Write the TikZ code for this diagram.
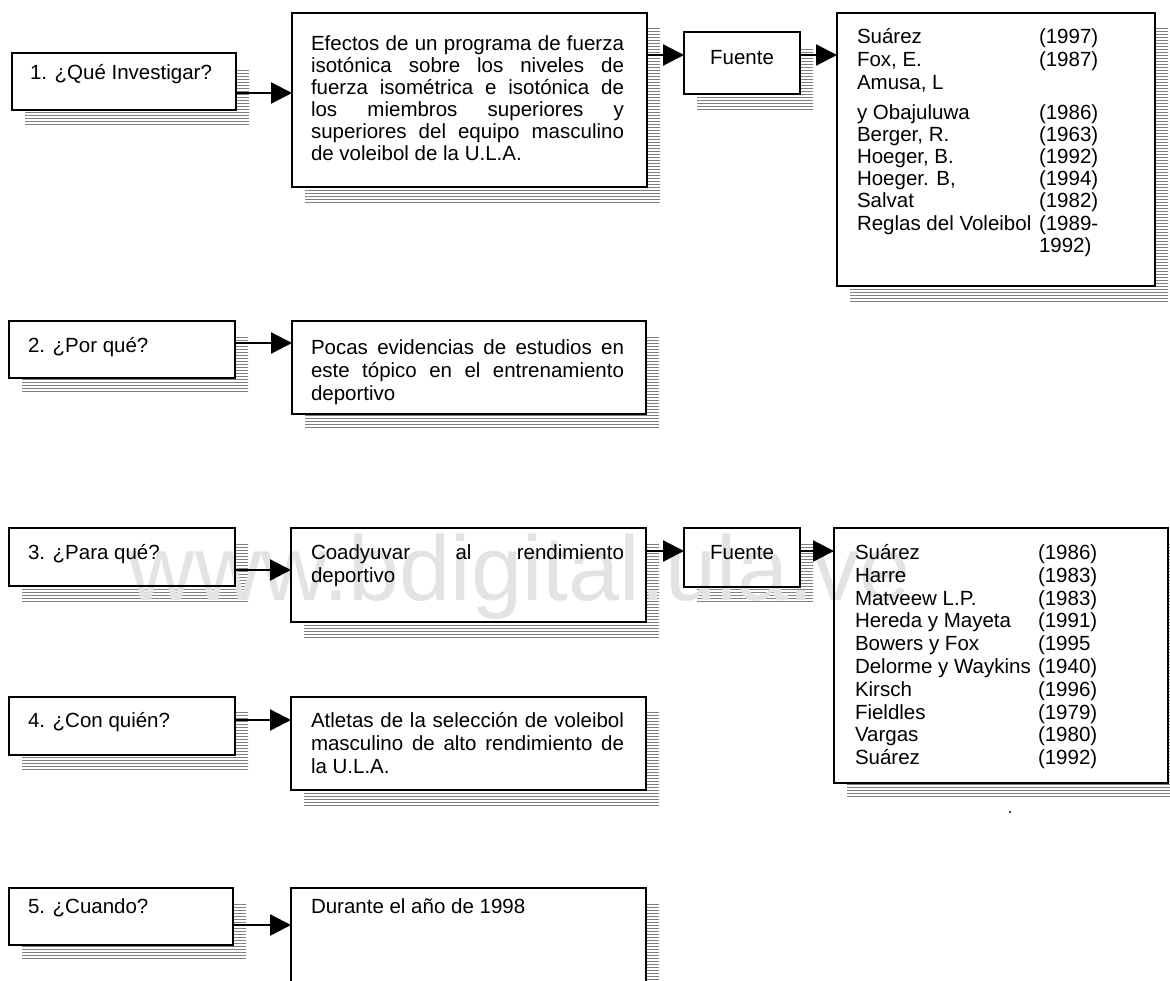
\documentclass[tikz,border=0pt]{standalone}
\usepackage{fontspec}
\usepackage{graphicx}
\setmainfont{Liberation Sans}
\usetikzlibrary{patterns,arrows.meta}
\newsavebox\jbox
\newcommand\jl[1]{\sbox\jbox{#1}\ifdim\wd\jbox>313pt\resizebox{313pt}{\height}{#1}\else\makebox[313pt][s]{#1}\fi}
\newcommand\tline[4]{\node[txt] (#1) at (#2,#3) {#4};}
\newcommand\shadowbox[4]{\fill[shade] (#1+13,#2+15) rectangle (#3+13,#4+15);}
\newcommand\whitebox[4]{\fill[white] (#1,#2) rectangle (#3,#4);}
\begin{document}
\begin{tikzpicture}[x=1pt,y=-1pt,
  every node/.style={inner sep=0pt, outer sep=0pt},
  txt/.style={font=\fontsize{20.5}{22.5}\selectfont, anchor=base west},
  boxframe/.style={draw=black, line width=1.6pt},
  shade/.style={pattern=horizontal lines, pattern color=black!50},
  conn/.style={line width=2.4pt, -{Triangle[length=21pt,width=21pt]}},
  wm/.style={font=\fontsize{92}{92}\selectfont, text=black!11, anchor=base}
]
\useasboundingbox (0,0) rectangle (1170,980);

% ---------- shadows ----------
\shadowbox{12}{53}{236}{110}
\shadowbox{292}{13}{647}{187}
\shadowbox{684}{32}{800}{94}
\shadowbox{837}{13}{1155}{286}
\shadowbox{9}{321}{235}{378}
\shadowbox{292}{321}{646}{414}
\shadowbox{9}{528}{235}{586}
\shadowbox{291}{528}{646}{622}
\shadowbox{684}{528}{800}{587}
\shadowbox{834}{528}{1168}{783}
\shadowbox{9}{697}{235}{755}
\shadowbox{291}{697}{646}{790}
\shadowbox{9}{888}{233}{945}
\shadowbox{291}{888}{646}{1000}

% ---------- box fills ----------
\whitebox{12}{53}{236}{110}
\whitebox{292}{13}{647}{187}
\whitebox{684}{32}{800}{94}
\whitebox{837}{13}{1155}{286}
\whitebox{9}{321}{235}{378}
\whitebox{292}{321}{646}{414}
\whitebox{9}{528}{235}{586}
\whitebox{291}{528}{646}{622}
\whitebox{684}{528}{800}{587}
\whitebox{834}{528}{1168}{783}
\whitebox{9}{697}{235}{755}
\whitebox{291}{697}{646}{790}
\whitebox{9}{888}{233}{945}
\whitebox{291}{888}{646}{1000}

% watermark
\node[wm] (wmark) at (520,600) {www.bdigital.ula.ve};

% ---------- row 1 ----------
\draw[boxframe] (12,53) rectangle (236,110);
\tline{t1}{30}{79}{1. ¿Qué Investigar?}
\coordinate (q1) at (236,93);

\draw[boxframe] (292,13) rectangle (647,187);
\coordinate (r1) at (292,93);
\coordinate (r1o) at (647,55);
\tline{e1}{311}{50}{\jl{Efectos de un programa de fuerza}}
\tline{e2}{311}{72}{\jl{isotónica sobre los niveles de}}
\tline{e3}{311}{94}{\jl{fuerza isométrica e isotónica de}}
\tline{e4}{311}{116}{\jl{los miembros superiores y}}
\tline{e5}{311}{138}{\jl{superiores del equipo masculino}}
\tline{e6}{311}{160}{de voleibol de la U.L.A.}

\draw[boxframe] (684,32) rectangle (800,94);
\coordinate (f1i) at (684,55);
\coordinate (f1o) at (800,55);
\node[txt, anchor=base] (tf1) at (742,64) {Fuente};

\draw[boxframe] (837,13) rectangle (1155,286);
\coordinate (s1i) at (837,55);
\tline{a1}{857}{43}{Suárez}            \tline{y1}{1039}{43}{(1997)}
\tline{a2}{857}{66}{Fox, E.}           \tline{y2}{1039}{66}{(1987)}
\tline{a3}{857}{89}{Amusa, L}
\tline{a4}{857}{119}{y Obajuluwa}      \tline{y4}{1039}{119}{(1986)}
\tline{a5}{857}{141}{Berger, R.}       \tline{y5}{1039}{141}{(1963)}
\tline{a6}{857}{163}{Hoeger, B.}       \tline{y6}{1039}{163}{(1992)}
\tline{a7}{857}{185}{Hoeger. B,}       \tline{y7}{1039}{185}{(1994)}
\tline{a8}{857}{207}{Salvat}           \tline{y8}{1039}{207}{(1982)}
\tline{a9}{857}{230}{Reglas del Voleibol} \tline{y9}{1039}{230}{(1989-}
\tline{y10}{1039}{252}{1992)}

% ---------- row 2 ----------
\draw[boxframe] (9,321) rectangle (235,378);
\coordinate (q2) at (235,343);
\tline{t3}{28}{352}{2. ¿Por qué?}
\draw[boxframe] (292,321) rectangle (646,414);
\coordinate (r2) at (292,343);
\tline{p1}{311}{354}{\jl{Pocas evidencias de estudios en}}
\tline{p2}{311}{377}{\jl{este tópico en el entrenamiento}}
\tline{p3}{311}{400}{deportivo}

% ---------- row 3 ----------
\draw[boxframe] (9,528) rectangle (235,586);
\coordinate (q3) at (235,570);
\tline{t5}{28}{559}{3. ¿Para qué?}
\draw[boxframe] (291,528) rectangle (646,622);
\coordinate (r3) at (291,570);
\coordinate (r3o) at (646,551);
\tline{c1}{311}{559}{\jl{Coadyuvar al rendimiento}}
\tline{c2}{311}{582}{deportivo}
\draw[boxframe] (684,528) rectangle (800,587);
\coordinate (f2i) at (684,551);
\coordinate (f2o) at (800,551);
\node[txt, anchor=base] (tf2) at (742,559) {Fuente};
\draw[boxframe] (834,528) rectangle (1168,783);
\coordinate (s2i) at (834,551);
\tline{b1}{855}{559}{Suárez}              \tline{z1}{1038}{559}{(1986)}
\tline{b2}{855}{582}{Harre}               \tline{z2}{1038}{582}{(1983)}
\tline{b3}{855}{605}{Matveew L.P.}        \tline{z3}{1038}{605}{(1983)}
\tline{b4}{855}{627}{Hereda y Mayeta}     \tline{z4}{1038}{627}{(1991)}
\tline{b5}{855}{650}{Bowers y Fox}        \tline{z5}{1038}{650}{(1995}
\tline{b6}{855}{673}{Delorme y Waykins}   \tline{z6}{1038}{673}{(1940)}
\tline{b7}{855}{696}{Kirsch}              \tline{z7}{1038}{696}{(1996)}
\tline{b8}{855}{719}{Fieldles}            \tline{z8}{1038}{719}{(1979)}
\tline{b9}{855}{741}{Vargas}              \tline{z9}{1038}{741}{(1980)}
\tline{b10}{855}{764}{Suárez}             \tline{z10}{1038}{764}{(1992)}
\fill (1010,812) circle (1.2pt);

% ---------- row 4 ----------
\draw[boxframe] (9,697) rectangle (235,755);
\coordinate (q4) at (235,720);
\tline{t7}{28}{727}{4. ¿Con quién?}
\draw[boxframe] (291,697) rectangle (646,790);
\coordinate (r4) at (291,720);
\tline{g1}{311}{727}{\jl{Atletas de la selección de voleibol}}
\tline{g2}{311}{750}{\jl{masculino de alto rendimiento de}}
\tline{g3}{311}{773}{la U.L.A.}

% ---------- row 5 ----------
\draw[boxframe] (9,888) rectangle (233,945);
\coordinate (q5) at (233,925);
\tline{t9}{28}{913}{5. ¿Cuando?}
\draw[boxframe] (291,1000) -- (291,888) -- (646,888) -- (646,1000);
\coordinate (r5) at (291,925);
\tline{t10}{311}{913}{Durante el año de 1998}

% ---------- connectors ----------
\draw[conn] (q1) -- (r1);
\draw[conn] (r1o) -- (f1i);
\draw[conn] (f1o) -- (s1i);
\draw[conn] (q2) -- (r2);
\draw[conn] (q3) -- (r3);
\draw[conn] (r3o) -- (f2i);
\draw[conn] (f2o) -- (s2i);
\draw[conn] (q4) -- (r4);
\draw[conn] (q5) -- (r5);
\end{tikzpicture}
\end{document}
